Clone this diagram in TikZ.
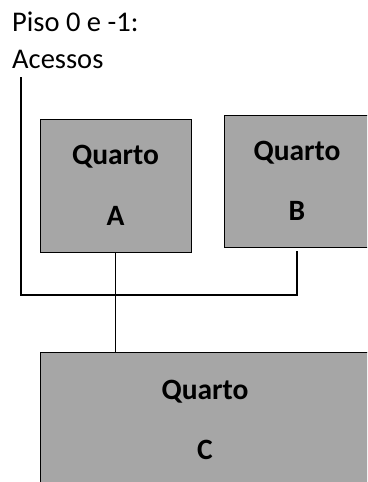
\documentclass[tikz,border=0pt]{standalone}
\usepackage{fontspec}
\setmainfont{Carlito}
\usepackage{tikz}
\usetikzlibrary{positioning}
\definecolor{roomgray}{HTML}{A6A6A6}
\tikzstyle{room} = [rectangle, draw=black, fill=roomgray, line width=0.9pt, align=center, text centered, inner sep=0pt, font=\fontsize{29.5}{29.5}\selectfont\bfseries]
\tikzstyle{heading} = [anchor=base west, inner sep=0pt, font=\fontsize{28.5}{34}\selectfont]
\tikzstyle{wire} = [line width=1.2pt]

\begin{document}
\begin{tikzpicture}[x=1pt,y=-1pt]
\useasboundingbox (0,0) rectangle (367,482);
\clip (0,0) rectangle (367,482);
\node (piso) [heading] at (12,31) {Piso 0 e -1:};
\node (acessos) [heading] at (12,68) {Acessos};
\node (A) [room, minimum width=151, minimum height=133] at (115.5,185.5) {Quarto\\[31pt]A};
\node (B) [room, minimum width=146, minimum height=132] at (297,181) {Quarto\\[31pt]B};
\node (C) [room, minimum width=330, minimum height=136] at (205,420) {Quarto\\[31pt]C};
\coordinate (acc) at (21,77);
\coordinate (corner) at (21,295);

\draw [wire, shorten >=4pt] (acc) -- (corner) -| (B.south);
\draw [wire] (A.south) -- (A.south |- C.north);
\end{tikzpicture}
\end{document}
